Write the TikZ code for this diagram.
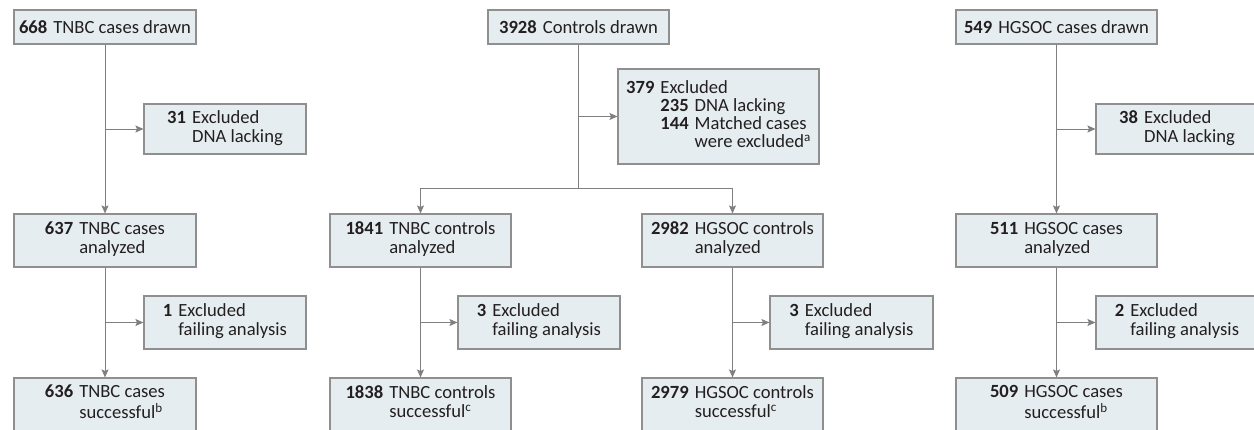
\documentclass[tikz,border=0pt]{standalone}
\usepackage{fontspec}
\setmainfont{Carlito}
\usetikzlibrary{arrows.meta}
\definecolor{boxfill}{HTML}{E6EDF1}
\definecolor{boxline}{HTML}{8F8F8F}
\definecolor{arrowc}{HTML}{7F7F7F}
\definecolor{txt}{HTML}{231F20}
\newcommand{\twoline}[3]{\begin{tabular}{@{}l@{\hspace{6pt}}l@{}}\textbf{#1} & #2\\ & #3\end{tabular}}
\newcommand{\oneline}[2]{\textbf{#1}\hspace{6pt}#2}
\begin{document}
\begin{tikzpicture}[x=1pt,y=-1pt,
  box/.style={draw=boxline, fill=boxfill, line width=1.1pt, inner sep=0pt, minimum height=53pt, text=txt, font=\fontsize{18.6}{19}\selectfont},
  flow/.style={draw=arrowc, line width=0.9pt},
  arr/.style={flow, -{Stealth[length=8pt,width=7pt,inset=1.5pt]}}]
\useasboundingbox (0,0) rectangle (1254,430);
\clip (0,0) rectangle (1254,430);
% top row
\node[box, minimum width=182pt, minimum height=34pt] (tcdrawn) at (105,27) {\oneline{668}{TNBC cases drawn}};
\node[box, minimum width=181pt, minimum height=34pt] (ctldrawn) at (578.5,27) {\oneline{3928}{Controls drawn}};
\node[box, minimum width=201pt, minimum height=34pt] (hgdrawn) at (1056.5,27) {\oneline{549}{HGSOC cases drawn}};
% first exclusions
\node[box, minimum width=162pt, minimum height=50pt] (ex31) at (225,129) {\twoline{31}{Excluded}{DNA lacking}};
\node[box, minimum width=201pt, minimum height=95pt] (ex379) at (718.5,116.5) {\fontsize{18.6}{17.6}\selectfont\begin{tabular}{@{}l@{\hspace{6pt}}l@{\hspace{6pt}}l@{}}\textbf{379} & \multicolumn{2}{@{}l@{}}{Excluded}\\ & \textbf{235} & DNA lacking\\ & \textbf{144} & Matched cases\\ & & were excluded\textsuperscript{a}\end{tabular}};
\node[box, minimum width=162pt, minimum height=50pt] (ex38) at (1177,129) {\twoline{38}{Excluded}{DNA lacking}};
% analyzed row
\node[box, minimum width=182pt] (tcan) at (105,240.5) {\twoline{637}{TNBC cases}{analyzed}};
\node[box, minimum width=181pt] (tccan) at (420.5,240.5) {\twoline{1841}{TNBC controls}{analyzed}};
\node[box, minimum width=181pt] (hgcan) at (732.5,240.5) {\twoline{2982}{HGSOC controls}{analyzed}};
\node[box, minimum width=201pt] (hgan) at (1056.5,240.5) {\twoline{511}{HGSOC cases}{analyzed}};
% second exclusions
\node[box, minimum width=162pt] (ex1) at (225,322.5) {\twoline{1}{Excluded}{failing analysis}};
\node[box, minimum width=162pt] (ex3a) at (539,322.5) {\twoline{3}{Excluded}{failing analysis}};
\node[box, minimum width=163pt] (ex3b) at (851.5,322.5) {\twoline{3}{Excluded}{failing analysis}};
\node[box, minimum width=162pt] (ex2) at (1177,322.5) {\twoline{2}{Excluded}{failing analysis}};
% successful row
\node[box, minimum width=182pt] (tcsu) at (105,404.5) {\twoline{636}{TNBC cases}{successful\textsuperscript{b}}};
\node[box, minimum width=181pt] (tccsu) at (420.5,404.5) {\twoline{1838}{TNBC controls}{successful\textsuperscript{c}}};
\node[box, minimum width=181pt] (hgcsu) at (732.5,404.5) {\twoline{2979}{HGSOC controls}{successful\textsuperscript{c}}};
\node[box, minimum width=201pt] (hgsu) at (1056.5,404.5) {\twoline{509}{HGSOC cases}{successful\textsuperscript{b}}};
% connectors: TNBC cases
\draw[arr] (tcdrawn.south) -- (tcdrawn.south |- tcan.north);
\draw[arr] (tcdrawn.south |- ex31.west) -- (ex31.west);
\draw[arr] (tcan.south) -- (tcan.south |- tcsu.north);
\draw[arr] (tcan.south |- ex1.west) -- (ex1.west);
% controls
\coordinate (split) at (578.5,188);
\draw[flow] (ctldrawn.south) -- (split);
\draw[arr] (ctldrawn.south |- ex379.west) -- (ex379.west);
\draw[arr] (split) -| (tccan.north);
\draw[arr] (split) -| (hgcan.north);
\draw[arr] (tccan.south) -- (tccan.south |- tccsu.north);
\draw[arr] (tccan.south |- ex3a.west) -- (ex3a.west);
\draw[arr] (hgcan.south) -- (hgcan.south |- hgcsu.north);
\draw[arr] (hgcan.south |- ex3b.west) -- (ex3b.west);
% HGSOC cases
\draw[arr] (hgdrawn.south) -- (hgdrawn.south |- hgan.north);
\draw[arr] (hgdrawn.south |- ex38.west) -- (ex38.west);
\draw[arr] (hgan.south) -- (hgan.south |- hgsu.north);
\draw[arr] (hgan.south |- ex2.west) -- (ex2.west);
\end{tikzpicture}
\end{document}
